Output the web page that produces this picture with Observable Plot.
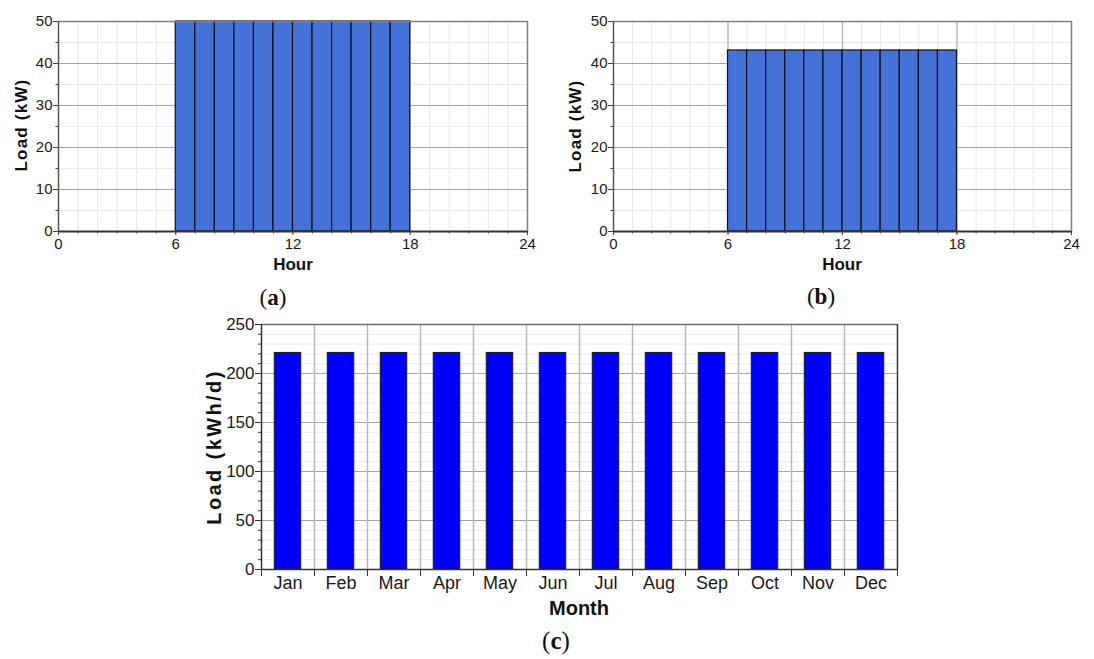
<!DOCTYPE html>
<html>
<head>
<meta charset="utf-8">
<script src="https://cdn.jsdelivr.net/npm/d3@7"></script>
<script src="https://cdn.jsdelivr.net/npm/@observablehq/plot@0.6"></script>
<style>
  html, body { margin: 0; padding: 0; background: #fff; }
  #root { position: relative; width: 1094px; height: 659px; overflow: hidden; background: #fff; }
  .panel { position: absolute; }
  .lbl { position: absolute; transform: translate(-50%, -50%); white-space: nowrap;
         font-family: "Liberation Sans", Arial, sans-serif; font-weight: bold; color: #111; }
  .rot { transform: translate(-50%, -50%) rotate(-90deg); }
  .cap { position: absolute; transform: translate(-50%, -50%); white-space: nowrap;
         font-family: "Liberation Serif", "DejaVu Serif", serif; color: #111; }
  .cap b { font-weight: bold; }
</style>
</head>
<body>
<div id="root"></div>
<script>
// ---------- data ----------
const hours = [0,1,2,3,4,5,6,7,8,9,10,11,12,13,14,15,16,17,18,19,20,21,22,23];
const loadA = [0,0,0,0,0,0,50,50,50,50,50,50,50,50,50,50,50,50,0,0,0,0,0,0];
const loadB = [0,0,0,0,0,0,43.1,43.1,43.1,43.1,43.1,43.1,43.1,43.1,43.1,43.1,43.1,43.1,0,0,0,0,0,0];
const months = ["Jan","Feb","Mar","Apr","May","Jun","Jul","Aug","Sep","Oct","Nov","Dec"];
const loadC = [221,221,221,221,221,221,221,221,221,221,221,221];

const hourMajorTicks = [0,6,12,18,24];
const hourMinorTicks = [0,1,2,3,4,5,6,7,8,9,10,11,12,13,14,15,16,17,18,19,20,21,22,23,24];
const kwMajorTicks = [0,10,20,30,40,50];
const kwMinorTicks = [5,15,25,35,45];
const kwhMajorTicks = [0,50,100,150,200,250];
const kwhMinorTicks = [10,20,30,40,60,70,80,90,110,120,130,140,160,170,180,190,210,220,230,240];

const root = document.getElementById("root");
const sans = "'Liberation Sans', Arial, sans-serif";

function hourlyChart(values, width) {
  const data = hours.map((h, i) => ({h, load: values[i]}));
  return Plot.plot({
    width, height: 252,
    marginLeft: 58, marginRight: 18, marginTop: 21, marginBottom: 21,
    style: {fontFamily: sans, fontSize: "15px", color: "#1a1a1a", background: "transparent", overflow: "visible"},
    x: {domain: [0, 24]},
    y: {domain: [0, 50]},
    marks: [
      Plot.gridX(hourMinorTicks, {stroke: "#e6e6e6", strokeOpacity: 1}),
      Plot.gridY(kwMinorTicks, {stroke: "#eaeaea", strokeOpacity: 1}),
      Plot.gridY(kwMajorTicks.slice(1, -1), {stroke: "#a4a4a4", strokeOpacity: 1}),
      Plot.gridX(hourMajorTicks.slice(1, -1), {stroke: "#b4b4b4", strokeOpacity: 1, strokeWidth: 1.3}),
      Plot.rectY(data, {x1: "h", x2: d => d.h + 1, y: "load", fill: "#4472d9", stroke: "#111", strokeWidth: 1.2}),
      Plot.ruleY([50], {stroke: "#7f7f7f", strokeWidth: 1.5}),
      Plot.ruleX([24], {stroke: "#7f7f7f", strokeWidth: 1.5}),
      Plot.ruleX([0], {stroke: "#555", strokeWidth: 1.5}),
      Plot.ruleY([0], {stroke: "#333", strokeWidth: 2}),
      Plot.axisY({ticks: kwMajorTicks, tickSize: 5, tickPadding: 1, label: null, stroke: "#444", fontSize: 15, fill: "#1a1a1a"}),
      Plot.axisY({ticks: kwMinorTicks, tickSize: 2.5, tickFormat: () => "", label: null, stroke: "#444"}),
      Plot.axisX({ticks: hourMajorTicks, tickSize: 4, tickPadding: 3, label: null, stroke: "#444", fontSize: 15, fill: "#1a1a1a"}),
      Plot.axisX({ticks: hourMinorTicks, tickSize: 2.5, tickFormat: () => "", label: null, stroke: "#444"})
    ]
  });
}

function monthlyChart() {
  const data = months.map((m, i) => ({m, i, load: loadC[i]}));
  const bounds = months.map((m, i) => i).concat([12]);
  const centers = months.map((m, i) => i + 0.5);
  return Plot.plot({
    width: 740, height: 290,
    marginLeft: 81, marginRight: 23, marginTop: 24, marginBottom: 21,
    style: {fontFamily: sans, fontSize: "17px", color: "#1a1a1a", background: "transparent", overflow: "visible"},
    x: {domain: [0, 12]},
    y: {domain: [0, 250]},
    marks: [
      Plot.gridY(kwhMinorTicks, {stroke: "#ececec", strokeOpacity: 1}),
      Plot.gridY(kwhMajorTicks.slice(1, -1), {stroke: "#a6a6a6", strokeOpacity: 1}),
      Plot.gridX(bounds.slice(1, -1), {stroke: "#b8b8b8", strokeOpacity: 1, strokeWidth: 1.5}),
      Plot.rectY(data, {x1: d => d.i + 0.25, x2: d => d.i + 0.75, y: "load", fill: "#0000ff", stroke: "#1a1a1a", strokeWidth: 1}),
      Plot.ruleY([250], {stroke: "#707070", strokeWidth: 1.5}),
      Plot.ruleX([12], {stroke: "#333", strokeWidth: 1.5}),
      Plot.ruleX([0], {stroke: "#333", strokeWidth: 1.5}),
      Plot.ruleY([0], {stroke: "#333", strokeWidth: 1.5}),
      Plot.axisY({ticks: kwhMajorTicks, tickSize: 6, tickPadding: 1, label: null, stroke: "#333", fontSize: 17, fill: "#1a1a1a"}),
      Plot.axisY({ticks: kwhMinorTicks, tickSize: 3, tickFormat: () => "", label: null, stroke: "#333"}),
      Plot.axisX({ticks: bounds, tickSize: 7, tickFormat: () => "", label: null, stroke: "#333"}),
      Plot.axisX({ticks: centers, tickSize: 0, tickPadding: 7, tickFormat: d => months[Math.floor(d)], label: null, fontSize: 18, fill: "#1a1a1a",
                  fontFamily: "'Liberation Sans Narrow', 'Arial Narrow', 'Liberation Sans', Arial, sans-serif"})
    ]
  });
}

function place(el, left, top) {
  const w = document.createElement("div");
  w.className = "panel";
  w.style.left = left + "px";
  w.style.top = top + "px";
  w.appendChild(el);
  root.appendChild(w);
}
function label(text, x, y, size, rotate, spacing) {
  const d = document.createElement("div");
  d.className = "lbl" + (rotate ? " rot" : "");
  d.style.left = x + "px";
  d.style.top = y + "px";
  d.style.fontSize = size + "px";
  if (spacing) d.style.letterSpacing = spacing + "px";
  d.textContent = text;
  root.appendChild(d);
}
function caption(letter, x, y, size) {
  const d = document.createElement("div");
  d.className = "cap";
  d.style.left = x + "px";
  d.style.top = y + "px";
  d.style.fontSize = size + "px";
  d.innerHTML = "(<b>" + letter + "</b>)";
  root.appendChild(d);
}

place(hourlyChart(loadA, 545), 0, 0);
place(hourlyChart(loadB, 534), 555, 0);
place(monthlyChart(), 180, 300);

label("Load (kW)", 21.5, 125, 17, true, 1.2);
label("Hour", 293, 265, 17);
caption("a", 273, 298, 23);

label("Load (kW)", 575.5, 126, 17, true, 1.2);
label("Hour", 842, 265, 17);
caption("b", 821, 297, 23);

label("Load (kWh/d)", 214, 447, 20, true, 2.4);
label("Month", 579, 608, 20);
caption("c", 556, 641, 25);
</script>
</body>
</html>
